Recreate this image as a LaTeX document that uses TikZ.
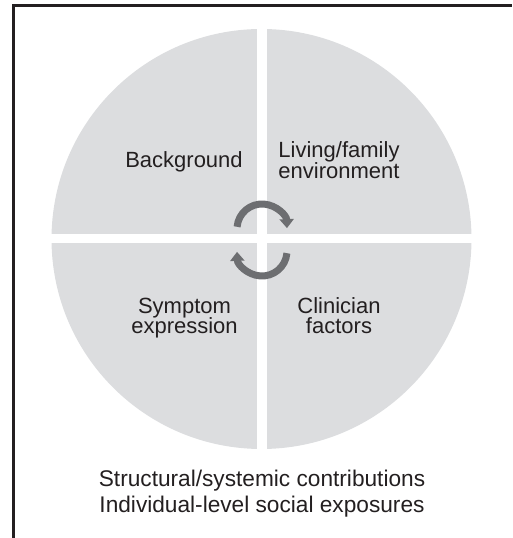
\documentclass[tikz,border=0pt]{standalone}
\usepackage{fontspec}
\setmainfont{Liberation Sans}
\usetikzlibrary{arrows.meta}
\definecolor{discgray}{HTML}{DCDDDF}
\definecolor{cyclegray}{HTML}{6D6E71}
\definecolor{inkdark}{HTML}{231F20}
\tikzset{
  quadlabel/.style={text=inkdark, align=center, anchor=base, inner sep=0pt,
    font=\fontsize{16.5}{15.5}\selectfont},
  cyclearrow/.style={draw=cyclegray, line width=5.25pt,
    -{Triangle[width=10.5pt, length=6.75pt]}}
}
\begin{document}
\begin{tikzpicture}[x=0.75pt, y=0.75pt]
\useasboundingbox (0,0) rectangle (512,538);
% frame (only top and left edges show)
\draw[draw=inkdark, line width=1.9pt] (13.5,0) |- (512,532.5);
% disc cut into four parts
\coordinate (C) at (261.5,299);
\fill[discgray] (C) circle (210);
\fill[white] (256.5,85) rectangle (266.5,513);
\fill[white] (48,294.5) rectangle (475,304);
% labels
\node[quadlabel] (bg) at (184,370) {Background};
\node[quadlabel] (living) at (339,359.7) {Living/family\\environment};
\node[quadlabel] (symptom) at (184.5,204) {Symptom\\expression};
\node[quadlabel] (clinician) at (339,204) {Clinician\\factors};
\node[quadlabel, font=\fontsize{17}{19.5}\selectfont] (social) at (262,25) {Structural/systemic contributions\\Individual-level social exposures};
% cycle arrows
\coordinate (cyctop) at (262,309);
\coordinate (cycbot) at (262,287);
\draw[cyclearrow] ([shift={(175:25)}]cyctop) arc[start angle=175, end angle=2, radius=25];
\draw[cyclearrow] ([shift={(-5:25)}]cycbot) arc[start angle=-5, end angle=-178, radius=25];
\end{tikzpicture}
\end{document}
